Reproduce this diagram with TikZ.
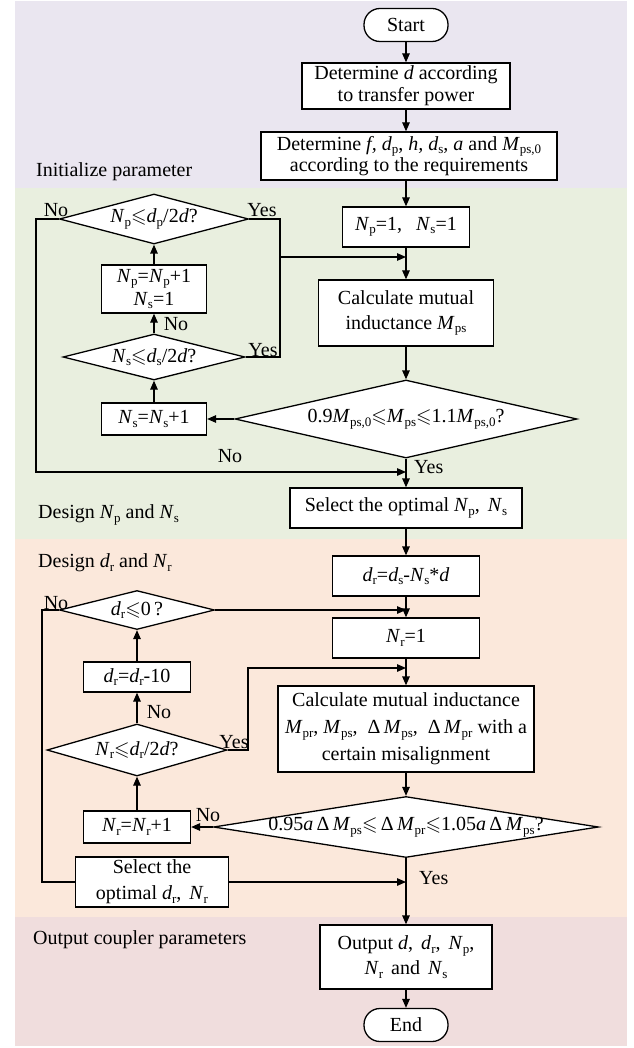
\documentclass[tikz,border=0pt]{standalone}
\usepackage{fontspec}
\setmainfont{Liberation Serif}
\usepackage{amssymb}
\usetikzlibrary{arrows.meta,shapes.geometric,calc}
\definecolor{bgA}{RGB}{234,230,240}
\definecolor{bgB}{RGB}{233,239,223}
\definecolor{bgC}{RGB}{251,232,219}
\definecolor{bgD}{RGB}{240,221,221}
\newcommand{\vv}[2]{\textit{#1}\raisebox{-3.5pt}{\fontsize{13}{13}\selectfont #2}}
\newcommand{\leqs}{$\leqslant$}
\begin{document}
\begin{tikzpicture}[x=1pt,y=-1pt,
  every node/.style={font=\fontsize{20}{24}\selectfont},
  box/.style={draw, fill=white, rectangle, line width=1.3pt, inner sep=2pt, align=center},
  term/.style={draw, fill=white, rectangle, rounded corners=16pt, line width=1.3pt, minimum width=84pt, minimum height=33pt, inner sep=0pt},
  dia/.style={draw, fill=white, diamond, line width=1.3pt, inner sep=0pt},
  lab/.style={inner sep=0pt},
  arr/.style={line width=1.3pt, -{Triangle[length=9pt,width=7.5pt]}},
  ln/.style={line width=1.3pt}
]
\useasboundingbox (0,0) rectangle (633,1048);
% bands
\fill[bgA] (15,1) rectangle (627,188);
\fill[bgB] (15,188) rectangle (627,539);
\fill[bgC] (15,539) rectangle (627,917);
\fill[bgD] (15,917) rectangle (627,1046);

% section labels
\node[lab, anchor=west] (s1) at (36,172) {Initialize parameter};
\node[lab, anchor=west] (s2) at (38,515) {Design \vv{N}{p} and \vv{N}{s}};
\node[lab, anchor=west] (s3) at (38,563) {Design \vv{d}{r} and \vv{N}{r}};
\node[lab, anchor=west] (s4) at (33,940) {Output coupler parameters};

\coordinate (R1) at (280,257);
\coordinate (L1) at (36,472);
\coordinate (R2) at (248,668);
\coordinate (L2) at (42,882);

% main column nodes
\node[term] (start) at (406,25) {Start};
\node[box, minimum width=208pt, minimum height=46pt, font=\fontsize{20}{22}\selectfont] (b1) at (406,86) {Determine \textit{d} according\\to transfer power};
\node[box, minimum width=296pt, minimum height=48pt, font=\fontsize{20}{20}\selectfont] (b2) at (409,156) {Determine \textit{f,} \vv{d}{p}, \textit{h,} \vv{d}{s}, \textit{a} and \vv{M}{ps,0}\\according to the requirements};
\node[box, minimum width=127pt, minimum height=40pt] (n1) at (406,227) {\vv{N}{p}=1,\hspace{0.7em}\vv{N}{s}=1};
\node[box, minimum width=175pt, minimum height=66pt, font=\fontsize{20}{25}\selectfont] (calc1) at (406,313) {Calculate mutual\\inductance \vv{M}{ps}};
\node[dia, minimum width=342pt, minimum height=78pt] (bigd1) at (406,419) {\makebox[0pt]{0.9\vv{M}{ps,0}\leqs\vv{M}{ps}\leqs1.1\vv{M}{ps,0}?}};
\node[box, minimum width=232pt, minimum height=40pt] (sel1) at (406,508) {Select the optimal \vv{N}{p},\hspace{0.4em}\vv{N}{s}};
\node[box, minimum width=147pt, minimum height=40pt] (dr1) at (406,576) {\vv{d}{r}=\vv{d}{s}-\vv{N}{s}*\textit{d}};
\node[box, minimum width=147pt, minimum height=40pt] (nr1) at (406,638) {\vv{N}{r}=1};
\node[box, minimum width=256pt, minimum height=86pt, font=\fontsize{20}{27}\selectfont] (calc2) at (406,729) {Calculate mutual inductance\\\vv{M}{pr}, \vv{M}{ps},\hspace{0.5em}Δ\,\vv{M}{ps},\hspace{0.5em}Δ\,\vv{M}{pr} with a\\certain misalignment};
\node[dia, minimum width=385pt, minimum height=61pt] (bigd2) at (406,827) {\makebox[0pt]{0.95\textit{a}\,Δ\,\vv{M}{ps}\leqs\,Δ\,\vv{M}{pr}\leqs1.05\textit{a}\,Δ\,\vv{M}{ps}?}};
\node[box, minimum width=172pt, minimum height=64pt, font=\fontsize{20}{25}\selectfont] (out) at (406,957) {Output \textit{d},\hspace{0.4em}\vv{d}{r},\hspace{0.4em}\vv{N}{p},\\\vv{N}{r}\hspace{0.4em}and\hspace{0.4em}\vv{N}{s}};
\node[term] (end) at (406,1025) {End};

% left loop 1
\node[dia, minimum width=189pt, minimum height=50pt] (dia1) at (154,219) {\makebox[0pt]{\vv{N}{p}\leqs\vv{d}{p}/2\textit{d}?}};
\node[box, minimum width=105pt, minimum height=48pt, font=\fontsize{20}{23}\selectfont] (inc1) at (154,289) {\vv{N}{p}=\vv{N}{p}+1\\\vv{N}{s}=1};
\node[dia, minimum width=182pt, minimum height=46pt] (dia2) at (154,357) {\makebox[0pt]{\vv{N}{s}\leqs\vv{d}{s}/2\textit{d}?}};
\node[box, minimum width=105pt, minimum height=32pt] (incs) at (154,419) {\vv{N}{s}=\vv{N}{s}+1};

% left loop 2
\node[dia, minimum width=155pt, minimum height=39pt] (dia3) at (137,610) {\makebox[0pt]{\vv{d}{r}\leqs0\,?}};
\node[box, minimum width=107pt, minimum height=30pt] (dec) at (137,677) {\vv{d}{r}=\vv{d}{r}-10};
\node[dia, minimum width=180pt, minimum height=52pt] (dia4) at (137,750) {\makebox[0pt]{\vv{N}{r}\leqs\vv{d}{r}/2\textit{d}?}};
\node[box, minimum width=107pt, minimum height=32pt] (incr) at (137,827) {\vv{N}{r}=\vv{N}{r}+1};

% connectors
\draw[arr] (start) -- (b1);
\draw[arr] (b1) -- (b1 |- b2.north);
\draw[arr] (b2.south -| b1) -- (n1);
\draw[arr] (n1) -- (calc1);
\draw[arr] (calc1) -- (bigd1);
\draw[arr] (bigd1) -- (sel1);
\draw[arr] (sel1) -- (dr1);
\draw[arr] (dr1) -- (nr1);
\draw[arr] (nr1) -- (calc2);
\draw[arr] (calc2) -- (bigd2);
\draw[arr] (bigd2) -- (out);
\draw[arr] (out) -- (end);

\draw[arr] (bigd1.west) -- (incs.east);
\draw[arr] (incs) -- (dia2);
\draw[arr] (dia2) -- (inc1);
\draw[arr] (inc1) -- (dia1);
\draw[ln] (dia1.east) -| (dia2.east -| R1) -- (dia2.east);
\draw[arr] (R1) -- (R1 -| calc1);
\draw[arr] (dia1.west) -| (L1) -- (L1 -| sel1);

\draw[arr] (bigd2.west) -- (incr.east);
\draw[arr] (incr) -- (dia4);
\draw[arr] (dia4) -- (dec);
\draw[arr] (dec) -- (dia3);
\draw[arr] (dia3.east) -- (dia3.east -| nr1);
\draw[arr] (dia4.east) -| (R2) -- (R2 -| calc2);
\draw[ln] (dia3.west) -| (L2) -- (L2 -| 75,0);
\node[box, minimum width=153pt, minimum height=50pt, font=\fontsize{20}{26}\selectfont] (sel2) at (152,882) {Select the\\optimal \vv{d}{r},\hspace{0.4em}\vv{N}{r}};
\draw[arr] (sel2.east) -- (sel2.east -| bigd2);

% branch labels
\node[lab] (no1) at (56,210) {No};
\node[lab] (yes1) at (262,210) {Yes};
\node[lab] (no2) at (176,324) {No};
\node[lab] (yes2) at (263,350) {Yes};
\node[lab] (no3) at (230,456) {No};
\node[lab, anchor=west] (yes3) at (414,467) {Yes};
\node[lab] (no4) at (56,603) {No};
\node[lab] (no5) at (159,712) {No};
\node[lab] (yes4) at (234,742) {Yes};
\node[lab] (no6) at (208,815) {No};
\node[lab, anchor=west] (yes5) at (419,878) {Yes};
\end{tikzpicture}
\end{document}
